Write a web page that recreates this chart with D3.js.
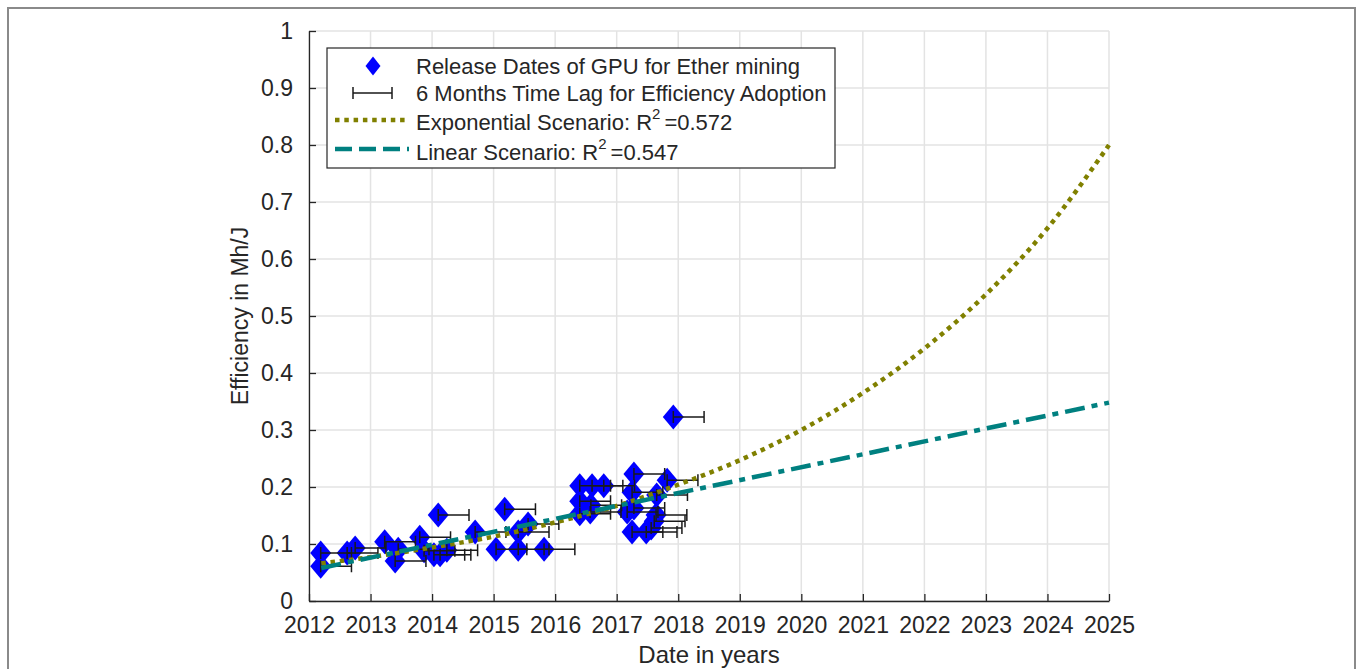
<!DOCTYPE html>
<html>
<head>
<meta charset="utf-8">
<script src="https://cdn.jsdelivr.net/npm/d3@7"></script>
<style>
  html, body { margin: 0; padding: 0; background: #fff; }
  svg { display: block; }
  text { font-family: "Liberation Sans", Arial, Helvetica, sans-serif; fill: #262626; }
</style>
</head>
<body>
<svg id="chart" width="1357" height="669"></svg>
<script>
// ---------------- data ----------------
const releaseYears = [
  2012.19, 2012.19, 2012.62, 2012.75, 2013.23, 2013.45, 2013.40, 2013.80, 2013.87,
  2014.10, 2014.03, 2014.13, 2014.24, 2014.70, 2015.04, 2015.18, 2015.40, 2015.40,
  2015.56, 2015.82, 2016.40, 2016.60, 2016.79, 2016.40, 2016.58, 2016.40, 2016.57,
  2017.28, 2017.82, 2017.25, 2017.65, 2017.17, 2017.28, 2017.25, 2017.48, 2017.61,
  2017.56, 2017.92, 2017.64
];
const efficiency = [
  0.084, 0.061, 0.084, 0.093, 0.104, 0.091, 0.070, 0.112, 0.088,
  0.151, 0.081, 0.081, 0.089, 0.121, 0.091, 0.161, 0.091, 0.121,
  0.135, 0.091, 0.202, 0.202, 0.202, 0.175, 0.168, 0.153, 0.156,
  0.223, 0.212, 0.191, 0.186, 0.156, 0.163, 0.121, 0.121, 0.140,
  0.128, 0.323, 0.151
];
const timeLagYears = 0.5; // 6 months

const expYears  = [2012.2, 2013, 2014, 2015, 2016, 2017, 2018, 2019, 2020, 2021, 2022, 2023, 2024, 2025];
const expValues = [0.066, 0.077, 0.094, 0.113, 0.138, 0.167, 0.204, 0.247, 0.300, 0.365, 0.443, 0.538, 0.654, 0.800];

const linYears  = [2012.2, 2025];
const linValues = [0.058, 0.348];

const xTicks = [2012, 2013, 2014, 2015, 2016, 2017, 2018, 2019, 2020, 2021, 2022, 2023, 2024, 2025];
const yTicks = [0, 0.1, 0.2, 0.3, 0.4, 0.5, 0.6, 0.7, 0.8, 0.9, 1];

const legendLabels = [
  "Release Dates of GPU for Ether mining",
  "6 Months Time Lag for Efficiency Adoption",
  "Exponential Scenario: R",
  "Linear Scenario: R"
];
const r2Values = ["0.572", "0.547"];

// ---------------- drawing ----------------
const svg = d3.select("#chart");
const plot = { left: 309, right: 1109, top: 31, bottom: 601 };

const x = d3.scaleLinear().domain([2012, 2025]).range([plot.left, plot.right]);
const y = d3.scaleLinear().domain([0, 1]).range([plot.bottom, plot.top]);

// figure frame
svg.append("path")
  .attr("d", "M8,669 L8,8 L1355,8 L1355,669")
  .attr("fill", "none").attr("stroke", "#8a8a8a").attr("stroke-width", 2);

// grid
const grid = svg.append("g");
grid.selectAll("line.gx").data(xTicks).join("line")
  .attr("x1", d => x(d)).attr("x2", d => x(d))
  .attr("y1", plot.top).attr("y2", plot.bottom)
  .attr("stroke", "#e3e3e3").attr("stroke-width", 1.5);
grid.selectAll("line.gy").data(yTicks).join("line")
  .attr("x1", plot.left).attr("x2", plot.right)
  .attr("y1", d => y(d)).attr("y2", d => y(d))
  .attr("stroke", "#e3e3e3").attr("stroke-width", 1.5);

// axes
const xAxis = d3.axisBottom(x).tickValues(xTicks).tickFormat(d3.format("d")).tickSizeInner(-7).tickSizeOuter(0).tickPadding(16);
const yAxis = d3.axisLeft(y).tickValues(yTicks).tickFormat(d => d === 0 || d === 1 ? String(d) : d3.format(".1f")(d)).tickSizeInner(-7).tickSizeOuter(0).tickPadding(16);

const gx = svg.append("g").attr("transform", `translate(0,${plot.bottom})`).call(xAxis);
const gy = svg.append("g").attr("transform", `translate(${plot.left},0)`).call(yAxis);
[gx, gy].forEach(g => {
  g.select(".domain").attr("stroke", "#262626").attr("stroke-width", 1.3);
  g.selectAll(".tick line").attr("stroke", "#262626").attr("stroke-width", 1.3);
  g.selectAll(".tick text").attr("fill", "#262626").attr("font-size", 23)
    .attr("font-family", '"Liberation Sans", Arial, sans-serif');
});

// axis titles
svg.append("text").attr("x", (plot.left + plot.right) / 2).attr("y", 663)
  .attr("text-anchor", "middle").attr("font-size", 24).text("Date in years");
svg.append("text").attr("transform", `translate(248,${(plot.top + plot.bottom) / 2}) rotate(-90)`)
  .attr("text-anchor", "middle").attr("font-size", 23).text("Efficiency in Mh/J");

// data points
const pts = releaseYears.map((t, i) => ({ t, v: efficiency[i] }));
const diamond = (cx, cy, w, h) => `M${cx},${cy - h / 2} L${cx + w / 2},${cy} L${cx},${cy + h / 2} L${cx - w / 2},${cy} Z`;

svg.append("g").selectAll("path").data(pts).join("path")
  .attr("d", d => diamond(x(d.t), y(d.v), 21, 25))
  .attr("fill", "#0000ff");

// error bars (time lag)
const eb = svg.append("g").attr("stroke", "#1a1a1a").attr("stroke-width", 1.5).attr("fill", "none");
eb.selectAll("path").data(pts).join("path")
  .attr("d", d => {
    const x0 = x(d.t), x1 = x(d.t + timeLagYears), yy = y(d.v);
    return `M${x0},${yy} L${x1},${yy} M${x1},${yy - 6} L${x1},${yy + 6} M${x0},${yy - 6} L${x0},${yy + 6}`;
  });

// fitted scenarios
const expLine = d3.line().x(d => x(d[0])).y(d => y(d[1])).curve(d3.curveMonotoneX);
svg.append("path").datum(expYears.map((t, i) => [t, expValues[i]]))
  .attr("d", expLine).attr("fill", "none")
  .attr("stroke", "#808000").attr("stroke-width", 4.5).attr("stroke-dasharray", "4.5,4.8");

svg.append("path").datum(linYears.map((t, i) => [t, linValues[i]]))
  .attr("d", expLine).attr("fill", "none")
  .attr("stroke", "#008080").attr("stroke-width", 4.5).attr("stroke-dasharray", "20,7,6,7");

// legend
const lg = svg.append("g");
lg.append("rect").attr("x", 327).attr("y", 48).attr("width", 508).attr("height", 120)
  .attr("fill", "#fff").attr("stroke", "#262626").attr("stroke-width", 1.2);
const rowY = [66, 93, 122, 152];
lg.append("path").attr("d", diamond(373, rowY[0], 15, 19)).attr("fill", "#0000ff");
lg.append("path").attr("d", `M353,${rowY[1]} L392,${rowY[1]} M353,${rowY[1] - 6} L353,${rowY[1] + 6} M392,${rowY[1] - 6} L392,${rowY[1] + 6}`)
  .attr("stroke", "#1a1a1a").attr("stroke-width", 1.5).attr("fill", "none");
lg.append("line").attr("x1", 335).attr("x2", 409).attr("y1", rowY[2] - 2).attr("y2", rowY[2] - 2)
  .attr("stroke", "#808000").attr("stroke-width", 4.5).attr("stroke-dasharray", "4.5,4.8");
lg.append("line").attr("x1", 335).attr("x2", 409).attr("y1", rowY[3] - 3).attr("y2", rowY[3] - 3)
  .attr("stroke", "#008080").attr("stroke-width", 4.5).attr("stroke-dasharray", "17,7");

legendLabels.forEach((lab, i) => {
  const t = lg.append("text").attr("x", 416).attr("y", rowY[i] + 8).attr("font-size", 22).attr("fill", "#111");
  t.append("tspan").text(lab);
  if (i >= 2) {
    t.append("tspan").attr("font-size", 15).attr("dy", -11).text("2");
    t.append("tspan").attr("dy", 11).attr("dx", 4).text("=" + r2Values[i - 2]);
  }
});
</script>
</body>
</html>
